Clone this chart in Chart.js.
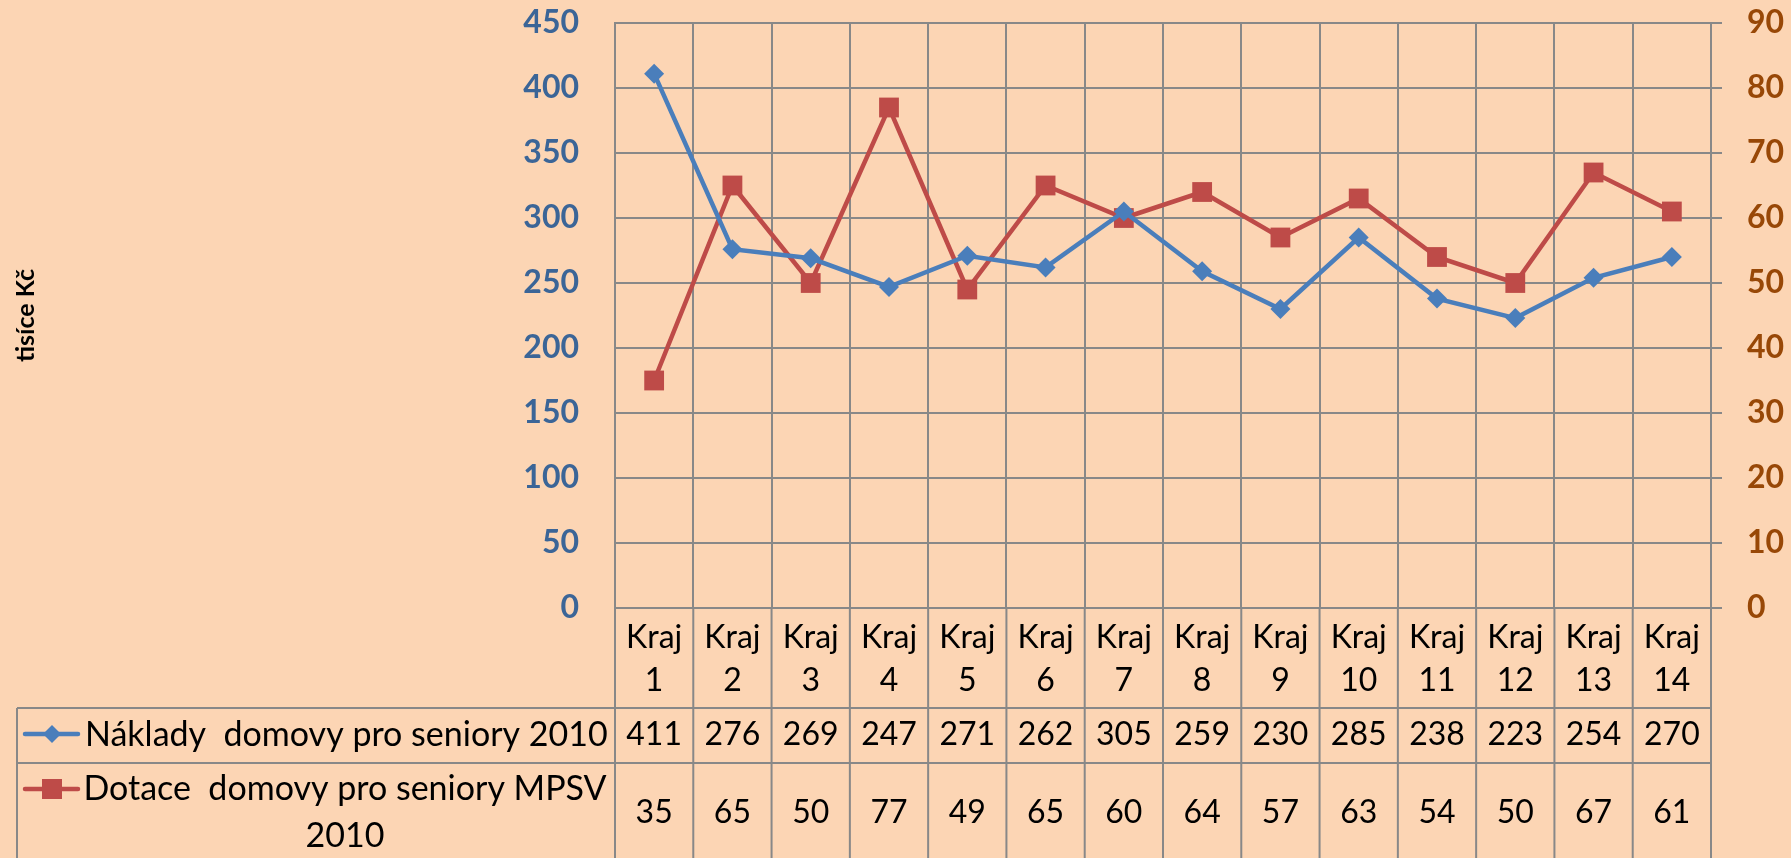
<!DOCTYPE html>
<html>
<head>
<meta charset="utf-8">
<script src="https://cdn.jsdelivr.net/npm/chart.js@4/dist/chart.umd.min.js"></script>
<style>
  html, body { margin: 0; padding: 0; background: #FCD5B4; }
  canvas { display: block; }
</style>
</head>
<body>
<canvas id="chart1" width="1791" height="858"></canvas>
<script>
// -- THE DATA --

const categories = [
  "Kraj 1","Kraj 2","Kraj 3","Kraj 4","Kraj 5","Kraj 6","Kraj 7",
  "Kraj 8","Kraj 9","Kraj 10","Kraj 11","Kraj 12","Kraj 13","Kraj 14"
];

const naklady = [411,276,269,247,271,262,305,259,230,285,238,223,254,270];
const dotace = [35,65,50,77,49,65,60,64,57,63,54,50,67,61];

const nakladyLabel = "Náklady  domovy pro seniory 2010";
const dotaceLabel = ["Dotace  domovy pro seniory MPSV", "2010"];
const yTitle = "tisíce Kč";

const leftTicks = [0,50,100,150,200,250,300,350,400,450];
const rightTicks = [0,10,20,30,40,50,60,70,80,90];

// -- STYLE --

const gridColor = '#888888';
const blue = '#4A7EBB';
const red = '#BE4B48';
const font = 'Lato';

// data table under the chart, drawn with the x scale positions
const tablePlugin = {
  id: 'dataTable',
  afterDraw(chart) {
    const ctx = chart.ctx;
    const xs = chart.scales.x;
    const area = chart.chartArea;
    const tableLeft = 17;
    const row1Top = 708, row2Top = 763, bottom = 870;

    ctx.save();
    ctx.strokeStyle = gridColor;
    ctx.lineWidth = 2;
    ctx.beginPath();
    [row1Top, row2Top].forEach(y => {
      ctx.moveTo(tableLeft, y);
      ctx.lineTo(area.right, y);
    });
    ctx.moveTo(tableLeft, row1Top);
    ctx.lineTo(tableLeft, bottom);
    const step = (area.right - area.left) / categories.length;
    for (let i = 0; i <= categories.length; i++) {
      const x = area.left + i * step;
      ctx.moveTo(x, area.bottom);
      ctx.lineTo(x, bottom);
    }
    ctx.stroke();

    // values
    ctx.fillStyle = '#000';
    ctx.font = '32px ' + font;
    ctx.textAlign = 'center';
    ctx.textBaseline = 'middle';
    categories.forEach((c, i) => {
      const x = xs.getPixelForValue(i);
      ctx.fillText(String(naklady[i]), x, 735);
      ctx.fillText(String(dotace[i]), x, 813);
    });

    // legend labels
    ctx.font = '34px ' + font;
    ctx.textAlign = 'left';
    ctx.fillText(nakladyLabel, 85, 735);
    ctx.textAlign = 'center';
    ctx.fillText(dotaceLabel[0], 345, 789);
    ctx.fillText(dotaceLabel[1], 345, 836);

    // legend keys
    ctx.lineCap = 'round';
    ctx.lineWidth = 4.5;
    ctx.strokeStyle = blue;
    ctx.beginPath();
    ctx.moveTo(25, 734); ctx.lineTo(78, 734);
    ctx.stroke();
    ctx.fillStyle = blue;
    ctx.beginPath();
    ctx.moveTo(52, 725); ctx.lineTo(61, 734); ctx.lineTo(52, 743); ctx.lineTo(43, 734);
    ctx.closePath();
    ctx.fill();

    ctx.strokeStyle = red;
    ctx.beginPath();
    ctx.moveTo(25, 789); ctx.lineTo(78, 789);
    ctx.stroke();
    ctx.fillStyle = red;
    ctx.fillRect(42, 779, 20, 20);

    // y axis title
    ctx.translate(34, (area.top + area.bottom) / 2);
    ctx.rotate(-Math.PI / 2);
    ctx.fillStyle = '#000';
    ctx.font = 'bold 25px ' + font;
    ctx.textAlign = 'center';
    ctx.textBaseline = 'alphabetic';
    ctx.fillText(yTitle, 0, 0);
    ctx.restore();
  }
};

const bgPlugin = {
  id: 'bg',
  beforeDraw(chart) {
    const ctx = chart.ctx;
    ctx.save();
    ctx.fillStyle = '#FCD5B4';
    ctx.fillRect(0, 0, chart.width, chart.height);
    ctx.restore();
  }
};

// -- THE CHART --

const chart1_data_obj = {
  labels: categories,
  datasets: [{
    label: nakladyLabel,
    data: naklady,
    yAxisID: 'y',
    borderColor: blue,
    backgroundColor: blue,
    borderWidth: 4.5,
    pointStyle: 'rectRot',
    pointRadius: 10,
    pointBorderWidth: 0,
    pointBackgroundColor: blue,
    tension: 0
  }, {
    label: dotaceLabel.join(' '),
    data: dotace,
    yAxisID: 'y1',
    borderColor: red,
    backgroundColor: red,
    borderWidth: 4.5,
    pointStyle: 'rect',
    pointRadius: 14,
    pointBorderWidth: 0,
    pointBackgroundColor: red,
    tension: 0
  }]
};

const chart1_chart_obj = {
  type: 'line',
  data: chart1_data_obj,
  plugins: [bgPlugin, tablePlugin],
  options: {
    responsive: false,
    animation: false,
    layout: { padding: { top: 23, bottom: 150, left: 0, right: 0 } },
    plugins: {
      legend: { display: false },
      tooltip: { enabled: false }
    },
    scales: {
      x: {
        offset: true,
        grid: { offset: true, color: gridColor, lineWidth: 2, drawTicks: false },
        border: { display: false },
        ticks: {
          autoSkip: false,
          maxRotation: 0,
          padding: 8,
          color: '#000',
          font: { family: font, size: 32, lineHeight: 1.35 },
          callback: function (v, i) { return categories[i].split(' '); }
        },
        afterFit(scale) { scale.height = 100; }
      },
      y: {
        position: 'left',
        min: 0,
        max: 450,
        afterBuildTicks(scale) { scale.ticks = leftTicks.map(v => ({ value: v })); },
        grid: { color: gridColor, lineWidth: 2, drawTicks: false },
        border: { display: true, color: gridColor, width: 2 },
        ticks: {
          padding: 36,
          color: '#3B6597',
          font: { family: font, size: 32, weight: 'bold' }
        },
        afterFit(scale) {
          scale.width = 615;
          scale.paddingTop = 0;
          scale.paddingBottom = 0;
        }
      },
      y1: {
        position: 'right',
        min: 0,
        max: 90,
        afterBuildTicks(scale) { scale.ticks = rightTicks.map(v => ({ value: v })); },
        grid: { drawOnChartArea: false, color: gridColor, lineWidth: 2, tickLength: 11 },
        border: { display: true, color: gridColor, width: 2 },
        ticks: {
          padding: 25,
          color: '#984807',
          font: { family: font, size: 32, weight: 'bold' }
        },
        afterFit(scale) {
          scale.width = 80;
          scale.paddingTop = 0;
          scale.paddingBottom = 0;
        }
      }
    }
  }
};

new Chart("chart1", chart1_chart_obj);
</script>
</body>
</html>
